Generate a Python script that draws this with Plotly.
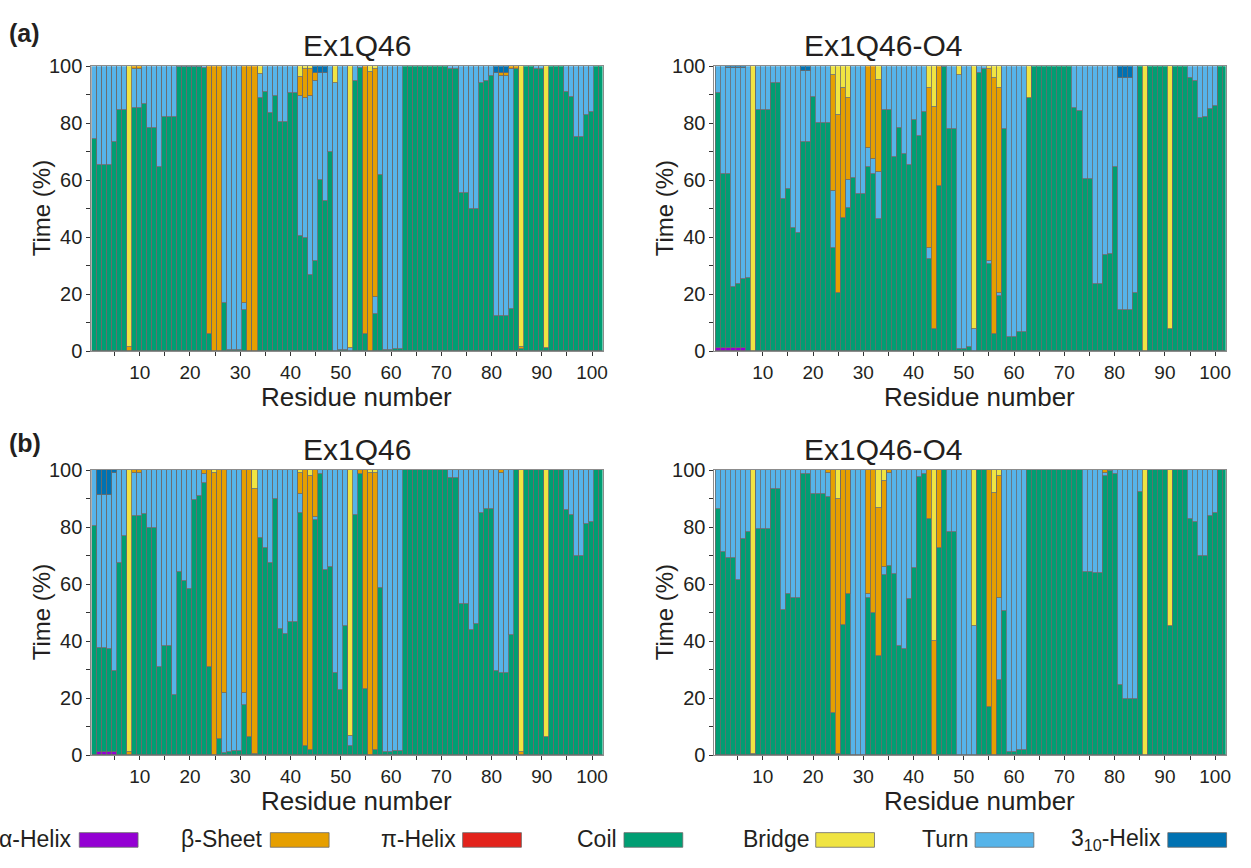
import plotly.graph_objects as go

W, H = 1251, 868
RESIDUES = list(range(1, 103))

# ---- (a) Ex1Q46 ----
COIL_A_WT = [
    74.3, 65.2, 65.2, 65.2, 73.5, 84.4, 84.4, 0, 85.2, 85.2,
    86.5, 78.1, 78.1, 64.4, 82, 82, 82, 99.5, 99.5, 99.5,
    99.5, 99.6, 99.4, 6, 0, 0, 16.8, 0.3, 0.3, 0.3,
    14.5, 0, 0, 88.6, 90.9, 83.5, 89.5, 80.4, 80.4, 90.5,
    90.5, 40.5, 39.6, 26.5, 31.4, 60.1, 52.5, 69.8, 0, 0.3,
    0.3, 0, 94.9, 99.4, 5.9, 0, 12.8, 61.8, 0.2, 0.2,
    0.8, 0.8, 100, 100, 100, 100, 100, 100, 100, 100,
    100, 99, 99, 55.3, 55.3, 49.8, 49.8, 94.1, 94.9, 96.4,
    12.4, 12.2, 12.2, 14.7, 98.9, 0.5, 100, 100, 99, 99,
    1.1, 100, 100, 100, 90.9, 89.2, 75.1, 75.1, 82.7, 83.7,
    100, 100,
]
ALPHA_A_WT = {}
BETA_A_WT = {8: 1.5, 9: 1.2, 10: 1.2, 24: 94, 25: 100, 26: 100, 31: 83.2, 32: 100,
             33: 100, 42: 6.5, 43: 10.5, 44: 9.5, 45: 2.5, 55: 94.1, 56: 98, 57: 80,
             82: 1.3, 83: 1.3, 84: 1.1, 85: 1.1, 86: 1}
BRIDGE_A_WT = {8: 98.5, 34: 2.9, 42: 4, 43: 0.9, 44: 1, 49: 5.9, 52: 99, 56: 2,
               57: 1, 86: 98.5, 91: 98.9}
H310_A_WT = {45: 2.6, 46: 2.6, 47: 2.6, 81: 2.3, 82: 2.3, 83: 2.3}

# ---- (a) Ex1Q46-O4 ----
COIL_A_O4 = [
    89.5, 61.1, 61.1, 21.5, 22.6, 24.3, 25.7, 0, 84.6, 84.6,
    84.6, 94.1, 94.1, 53.2, 57, 43, 41.5, 73.4, 73.4, 89.2,
    80, 80, 80, 36.1, 20.4, 46.6, 50, 60.7, 55, 55,
    64.7, 62.1, 46.4, 84.4, 84.4, 68.1, 78.1, 69.2, 65.2, 81.2,
    75.5, 83.8, 32.2, 7.6, 57.8, 99.5, 77.8, 77.8, 0.8, 0.8,
    1.4, 0, 97.7, 98.9, 30.4, 5.9, 19.3, 77.8, 4.8, 4.8,
    6.5, 6.5, 88.8, 100, 100, 100, 100, 100, 100, 100,
    100, 85.4, 84.3, 60.3, 60.3, 23.4, 23.4, 33.5, 34.1, 64.4,
    14.3, 14.3, 14.3, 20.4, 100, 0, 100, 100, 100, 100,
    7.6, 100, 100, 100, 95.7, 94.9, 81.8, 82, 85, 86,
    100, 100,
]
ALPHA_A_O4 = {1: 1, 2: 1, 3: 1, 4: 1, 5: 1, 6: 1}
BETA_A_O4 = {24: 40.5, 25: 62.3, 26: 45.6, 27: 28.7, 31: 28.7, 32: 32.5, 33: 32.3,
             43: 56.3, 44: 78.1, 45: 42.2, 55: 67.4, 56: 89.8, 57: 71.8}
BRIDGE_A_O4 = {8: 100, 24: 3.2, 25: 17.3, 26: 7.8, 27: 11.2, 33: 4.8, 43: 7.6,
               44: 14.3, 49: 3.2, 52: 92.4, 55: 1, 56: 4.3, 57: 7.8, 63: 11.2,
               86: 100, 91: 92.4}
H310_A_O4 = {3: 0.8, 4: 0.8, 5: 0.8, 6: 0.8, 18: 1.7, 19: 1.7, 81: 4.3, 82: 4.3, 83: 4.3}

# ---- (b) Ex1Q46 ----
COIL_B_WT = [
    80.3, 36.4, 36.4, 36, 28.4, 67.4, 76.9, 0, 83.9, 83.9,
    84.6, 79.7, 79.7, 31.1, 38.4, 38.4, 21.1, 64.4, 61.2, 58.4,
    89.4, 90.8, 95.4, 30.8, 0, 5.7, 0.8, 1, 1.5, 1.5,
    17.7, 6.3, 0.5, 76.3, 72.6, 67.5, 90, 44.1, 42.5, 46.7,
    46.7, 84.9, 3.4, 1.7, 82.6, 98.7, 64.9, 66, 29, 22.8,
    45.2, 3.4, 84.3, 98.7, 23.3, 0, 1.7, 58.7, 1, 1,
    1.5, 1.5, 100, 100, 100, 100, 100, 100, 100, 100,
    100, 97.2, 97.2, 53, 53, 43.8, 46.1, 85.1, 86.2, 86.2,
    29.6, 28.8, 28.8, 42.1, 100, 0, 100, 100, 100, 100,
    6.5, 100, 100, 100, 86, 84.3, 70, 70, 80.9, 81.7,
    100, 100,
]
ALPHA_B_WT = {2: 1.2, 3: 1.2, 4: 1.2, 5: 1.2}
BETA_B_WT = {8: 1, 9: 1, 10: 1, 23: 1.5, 24: 69.2, 25: 99, 26: 94.3, 27: 78, 31: 78,
             32: 93.7, 33: 92.9, 42: 7.4, 43: 96.6, 44: 96.3, 45: 16.3, 54: 1.3,
             55: 76.7, 56: 99, 57: 97.3, 82: 1, 86: 1}
BRIDGE_B_WT = {8: 99, 25: 1, 33: 6.6, 42: 0.9, 44: 2, 52: 93.2, 56: 1, 57: 1,
               86: 99, 91: 93.5}
H310_B_WT = {2: 8.7, 3: 8.7, 4: 8.7, 5: 1}

# ---- (b) Ex1Q46-O4 ----
COIL_B_O4 = [
    86.2, 71.2, 69.2, 69.2, 61.3, 75.7, 78.2, 0.5, 79.2, 79.2,
    79.4, 93.4, 93.4, 51, 56.4, 55.2, 55.2, 98.7, 98.5, 91.7,
    91.7, 91.7, 90.5, 14.8, 0.5, 45.6, 56.6, 0, 0, 0,
    55.2, 49.8, 34.7, 63.2, 66.4, 63.4, 38.4, 37.2, 54.7, 65.5,
    97.4, 98.5, 82.8, 0, 72.6, 100, 78.2, 78.2, 0, 0,
    0, 0, 100, 100, 17.1, 0, 26.5, 50.7, 1.1, 1.1,
    1.7, 1.7, 100, 100, 100, 100, 100, 100, 100, 100,
    100, 100, 100, 64.4, 64.4, 63.8, 63.8, 97.9, 99.5, 98.7,
    24.5, 19.7, 19.7, 19.9, 92.3, 0, 100, 100, 100, 100,
    45.2, 100, 100, 100, 82.8, 81.7, 69.8, 70, 84, 85,
    100, 100,
]
ALPHA_B_O4 = {}
BETA_B_O4 = {23: 1, 24: 85.2, 25: 89.5, 26: 54.4, 27: 43.4, 31: 43.4, 32: 50.2,
             33: 51.9, 34: 30.2, 35: 0.9, 43: 17.2, 44: 39.9, 45: 27.4, 55: 82.9,
             56: 91.9, 57: 42.7, 78: 1}
BRIDGE_B_O4 = {8: 99.5, 25: 10, 33: 13.4, 34: 3.8, 44: 60.1, 52: 54.8, 56: 8.1,
               57: 2.1, 86: 100, 91: 54.8}
H310_B_O4 = {}

X_TICKS = [10, 20, 30, 40, 50, 60, 70, 80, 90, 100]
X_MINOR = [5, 15, 25, 35, 45, 55, 65, 75, 85, 95]
Y_TICKS = [0, 20, 40, 60, 80, 100]
Y_MINOR = [10, 30, 50, 70, 90]

COLORS = {
    "alpha": "#9400D3",
    "beta": "#E69F00",
    "pi": "#E3221B",
    "coil": "#009E73",
    "bridge": "#F0E442",
    "turn": "#56B4E9",
    "h310": "#0072B2",
}
STACK_ORDER = ["alpha", "pi", "coil", "turn", "beta", "bridge", "h310"]


def expand(sparse):
    return [sparse.get(r, 0) for r in RESIDUES]


def panel_series(alpha, coil, beta, bridge, h310):
    s = {
        "alpha": expand(alpha),
        "pi": [0] * len(RESIDUES),
        "coil": list(coil),
        "beta": expand(beta),
        "bridge": expand(bridge),
        "h310": expand(h310),
    }
    # remaining share of each residue's time is Turn
    s["turn"] = [
        max(0.0, round(100 - (s["alpha"][i] + s["coil"][i] + s["beta"][i]
                              + s["bridge"][i] + s["h310"][i]), 2))
        for i in range(len(RESIDUES))
    ]
    return s


def px(x):
    return x / W


def py(y):
    return 1 - y / H


XL = (91.7, 605.0)
XR = (717.3, 1230.6)
YA = (56.7, 349.0)
YB = (471.0, 763.7)

# (title, title centre in residue units, data, x extent, y extent)
PANELS = [
    ("Ex1Q46", 53.2, panel_series(ALPHA_A_WT, COIL_A_WT, BETA_A_WT, BRIDGE_A_WT, H310_A_WT), XL, YA),
    ("Ex1Q46-O4", 34.0, panel_series(ALPHA_A_O4, COIL_A_O4, BETA_A_O4, BRIDGE_A_O4, H310_A_O4), XR, YA),
    ("Ex1Q46", 53.2, panel_series(ALPHA_B_WT, COIL_B_WT, BETA_B_WT, BRIDGE_B_WT, H310_B_WT), XL, YB),
    ("Ex1Q46-O4", 34.0, panel_series(ALPHA_B_O4, COIL_B_O4, BETA_B_O4, BRIDGE_B_O4, H310_B_O4), XR, YB),
]

FONT = "Liberation Sans, Arial, sans-serif"
TXT = "#231f20"

fig = go.Figure()
layout = dict(
    width=W, height=H,
    margin=dict(l=0, r=0, t=0, b=0),
    paper_bgcolor="white", plot_bgcolor="white",
    barmode="stack", bargap=0,
    showlegend=False,
    font=dict(family=FONT, color=TXT),
)
annotations = []
shapes = []

for k, (title, title_res, series, (x0, x1), (y0, y1)) in enumerate(PANELS):
    sfx = "" if k == 0 else str(k + 1)
    for cls in STACK_ORDER:
        vals = [v if v > 0 else None for v in series[cls]]
        fig.add_trace(go.Bar(
            x=RESIDUES, y=vals, width=1,
            marker=dict(color=COLORS[cls], line=dict(color="#6b6b6b", width=0.8)),
            xaxis="x" + sfx, yaxis="y" + sfx, hoverinfo="skip",
        ))
    layout["xaxis" + sfx] = dict(
        domain=[px(x0), px(x1)], anchor="y" + sfx, range=[0.37, 102.1],
        tickvals=X_TICKS, ticks="outside", ticklen=4, tickwidth=1, tickcolor="#333",
        minor=dict(tickvals=X_MINOR, ticks="outside", ticklen=4, tickwidth=1, tickcolor="#333"),
        showline=True, mirror=True, linecolor="#8c8c8c", linewidth=1,
        showgrid=False, zeroline=False, tickfont=dict(size=19, color=TXT, family=FONT),
    )
    layout["yaxis" + sfx] = dict(
        domain=[py(y1), py(y0)], anchor="x" + sfx, range=[0, 100],
        tickvals=Y_TICKS, ticks="outside", ticklen=4, tickwidth=1, tickcolor="#333",
        minor=dict(tickvals=Y_MINOR, ticks="outside", ticklen=4, tickwidth=1, tickcolor="#333"),
        showline=True, mirror=True, linecolor="#8c8c8c", linewidth=1,
        showgrid=False, zeroline=False, tickfont=dict(size=20, color=TXT, family=FONT),
    )
    annotations.append(dict(text=title, x=title_res, y=py(y0 - 21), xref="x" + sfx, yref="paper",
                            showarrow=False, xanchor="center", yanchor="middle",
                            font=dict(size=30, color=TXT, family=FONT)))
    annotations.append(dict(text="Residue number", x=53.2, y=py(y1 + 47), xref="x" + sfx,
                            yref="paper", showarrow=False, xanchor="center", yanchor="middle",
                            font=dict(size=26, color=TXT, family=FONT)))
    annotations.append(dict(text="Time (%)", x=px(x0 - 50), y=py((y0 + y1) / 2), xref="paper",
                            yref="paper", showarrow=False, xanchor="center", yanchor="middle",
                            textangle=-90, font=dict(size=24, color=TXT, family=FONT)))

for lab, yc in (("(a)", 23), ("(b)", 443)):
    annotations.append(dict(text="<b>%s</b>" % lab, x=px(7), y=py(yc), xref="paper", yref="paper",
                            showarrow=False, xanchor="left", yanchor="middle",
                            font=dict(size=25, color=TXT, family=FONT)))

# legend row: label followed by a colour swatch
LEGEND = [
    ("α-Helix", "alpha", 79.6),
    ("β-Sheet", "beta", 271.4),
    ("π-Helix", "pi", 464.5),
    ("Coil", "coil", 626.5),
    ("Bridge", "bridge", 819.0),
    ("Turn", "turn", 979.0),
    ("3<sub>10</sub>-Helix", "h310", 1172.5),
]
for text, cls, bx in LEGEND:
    shapes.append(dict(type="rect", xref="paper", yref="paper",
                       x0=px(bx), x1=px(bx + 59), y0=py(858), y1=py(843),
                       fillcolor=COLORS[cls], line=dict(color="#6a6a6a", width=0.8)))
    annotations.append(dict(text=text, x=px(bx - 5), y=py(850), xref="paper", yref="paper",
                            showarrow=False, xanchor="right", yanchor="middle",
                            font=dict(size=23, color=TXT, family=FONT)))

layout["annotations"] = annotations
layout["shapes"] = shapes
fig.update_layout(**layout)
fig.write_html("out.html")
